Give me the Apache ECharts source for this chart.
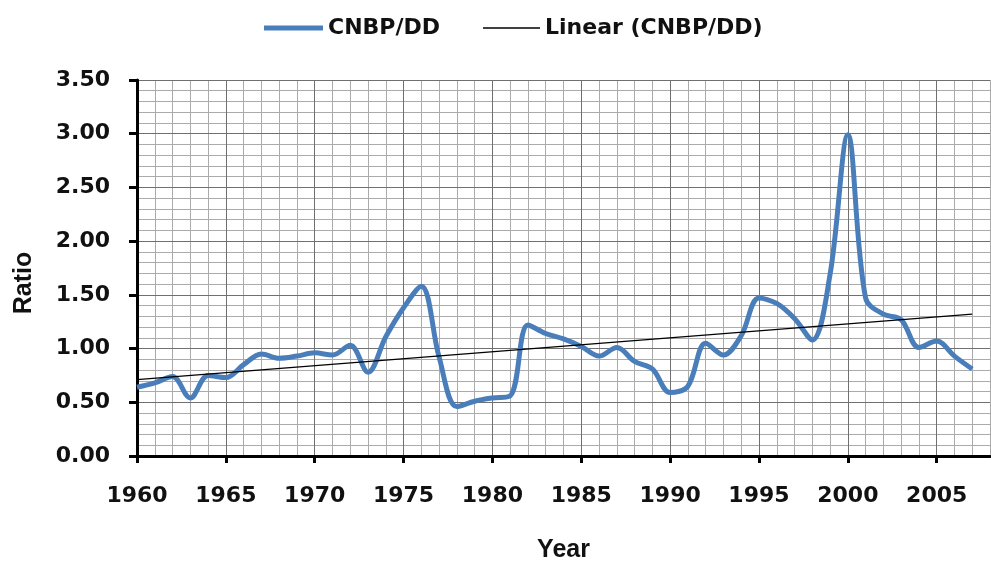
<!DOCTYPE html>
<html>
<head>
<meta charset="utf-8">
<title>CNBP/DD</title>
<script src="https://cdn.jsdelivr.net/npm/echarts@6/dist/echarts.min.js"></script>
<style>
  html, body { margin: 0; padding: 0; background: #fff; }
  #chart { width: 991px; height: 568px; }
</style>
</head>
<body>
<div id="chart"></div>
<script>
// values
const years = [
  1960, 1961, 1962, 1963, 1964, 1965, 1966, 1967, 1968, 1969,
  1970, 1971, 1972, 1973, 1974, 1975, 1976, 1977, 1978, 1979,
  1980, 1981, 1982, 1983, 1984, 1985, 1986, 1987, 1988, 1989,
  1990, 1991, 1992, 1993, 1994, 1995, 1996, 1997, 1998, 1999,
  2000, 2001, 2002, 2003, 2004, 2005, 2006, 2007
]
const ratio = [
  0.64, 0.68, 0.74, 0.54, 0.75, 0.73, 0.85, 0.95, 0.91, 0.93,
  0.96, 0.94, 1.03, 0.78, 1.11, 1.38, 1.58, 0.92, 0.46, 0.51,
  0.54, 0.56, 1.22, 1.14, 1.09, 1.02, 0.93, 1.01, 0.88, 0.81,
  0.59, 0.65, 1.05, 0.94, 1.12, 1.47, 1.42, 1.28, 1.08, 1.69,
  2.99, 1.47, 1.32, 1.27, 1.01, 1.07, 0.93, 0.81
]
// trend line end points
const trendYears = [1960, 2007]
const trendValues = [0.71, 1.32]

const xTicks = [1960, 1965, 1970, 1975, 1980, 1985, 1990, 1995, 2000, 2005]
const yTicks = [0, 0.5, 1, 1.5, 2, 2.5, 3, 3.5]

const seriesName = 'CNBP/DD'
const trendName = 'Linear (CNBP/DD)'

const blue = '#4A7EBB'
const major = '#707070'
const minor = '#ababab'
const labelFont = { fontFamily: 'DejaVu Sans', fontWeight: 'bold', fontSize: 22, color: '#111' }
const titleFont = { fontFamily: 'Liberation Sans', fontWeight: 'bold', fontSize: 25, color: '#111' }
const legendFont = { fontFamily: 'DejaVu Sans', fontWeight: 'bold', fontSize: 22, color: '#111' }

const chart = echarts.init(document.getElementById('chart'))

// axis 0 carries the marks, labels and the major grid; axis 1 only draws the fine grid
chart.setOption({
  animation: false,
  legend: [
    {
      data: [seriesName],
      left: 259,
      top: 12,
      icon: 'rect',
      itemWidth: 59,
      itemHeight: 5,
      textStyle: legendFont
    },
    {
      data: [trendName],
      left: 478,
      top: 12,
      icon: 'rect',
      itemWidth: 57,
      itemHeight: 1.5,
      textStyle: legendFont
    }
  ],
  grid: { left: 137, right: 1, top: 80, bottom: 109 },
  xAxis: [
    {
      type: 'value',
      min: 1960,
      max: 2008,
      interval: 5,
      z: 2,
      name: 'Year',
      nameLocation: 'middle',
      nameGap: 82,
      nameTextStyle: titleFont,
      axisLine: { onZero: false, lineStyle: { color: '#000', width: 3 } },
      axisTick: { customValues: xTicks, length: 7, lineStyle: { color: '#000', width: 3 } },
      axisLabel: { customValues: xTicks, margin: 29, formatter: (v) => String(v), ...labelFont },
      splitLine: { show: true, lineStyle: { color: major, width: 1 } }
    },
    {
      type: 'value',
      min: 1960,
      max: 2008,
      interval: 1,
      z: 1,
      axisLine: { show: false },
      axisTick: { show: false },
      axisLabel: { show: false },
      splitLine: { show: true, lineStyle: { color: minor, width: 1 } }
    }
  ],
  yAxis: [
    {
      type: 'value',
      min: 0,
      max: 3.5,
      interval: 0.5,
      z: 2,
      name: 'Ratio',
      nameLocation: 'middle',
      nameGap: 100,
      nameTextStyle: { ...titleFont, padding: [0, 30, 0, 0] },
      axisLine: { show: true, lineStyle: { color: '#000', width: 3 } },
      axisTick: { show: true, customValues: yTicks, length: 8, lineStyle: { color: '#000', width: 3 } },
      axisLabel: {
        customValues: yTicks,
        margin: 27,
        formatter: (v) => v.toFixed(2),
        ...labelFont
      },
      splitLine: { show: true, lineStyle: { color: major, width: 1 } }
    },
    {
      type: 'value',
      min: 0,
      max: 3.5,
      interval: 0.1,
      z: 1,
      axisLine: { show: false },
      axisTick: { show: false },
      axisLabel: { show: false },
      splitLine: { show: true, lineStyle: { color: minor, width: 1 } }
    }
  ],
  series: [
    {
      type: 'line',
      name: seriesName,
      data: years.map((y, i) => [y, ratio[i]]),
      smooth: 0.35,
      symbol: 'none',
      color: blue,
      lineStyle: { width: 5, color: blue },
      z: 3
    },
    {
      type: 'line',
      name: trendName,
      data: trendYears.map((y, i) => [y, trendValues[i]]),
      symbol: 'none',
      color: '#000',
      lineStyle: { width: 1.3, color: '#000' },
      z: 4
    }
  ]
})
</script>
</body>
</html>
